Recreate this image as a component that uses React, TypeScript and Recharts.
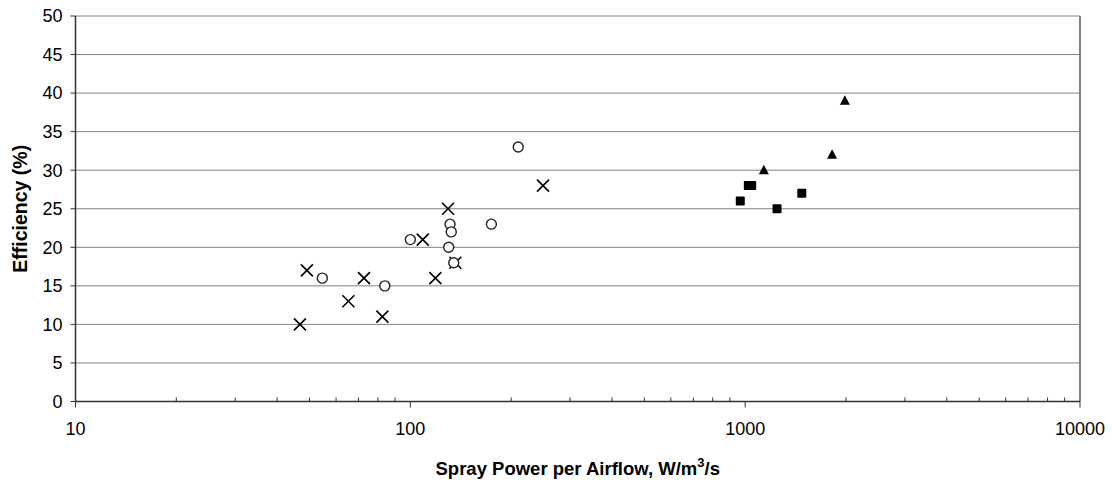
import React from "react";
import {
  CartesianGrid,
  Label,
  ReferenceLine,
  Scatter,
  ScatterChart,
  XAxis,
  YAxis,
} from "recharts";

// x: spray power per airflow (W/m3/s), y: efficiency (%)
const crossPoints = [
  { x: 46.8, y: 10 },
  { x: 49.1, y: 17 },
  { x: 65.3, y: 13 },
  { x: 72.7, y: 16 },
  { x: 82.5, y: 11 },
  { x: 108.9, y: 21 },
  { x: 118.8, y: 16 },
  { x: 129.6, y: 25 },
  { x: 136.3, y: 18 },
  { x: 249, y: 28 },
];

const circlePoints = [
  { x: 54.6, y: 16 },
  { x: 83.9, y: 15 },
  { x: 100, y: 21 },
  { x: 130.2, y: 20 },
  { x: 131.4, y: 23 },
  { x: 132.5, y: 22 },
  { x: 134.8, y: 18 },
  { x: 174.6, y: 23 },
  { x: 210, y: 33 },
];

const squarePoints = [
  { x: 967, y: 26 },
  { x: 1022, y: 28 },
  { x: 1046, y: 28 },
  { x: 1245, y: 25 },
  { x: 1476, y: 27 },
];

const trianglePoints = [
  { x: 1137, y: 30 },
  { x: 1818, y: 32 },
  { x: 1985, y: 39 },
];

const xMajorTicks = [10, 100, 1000, 10000];
const xMinorTicks = [
  20, 30, 40, 50, 60, 70, 80, 90,
  200, 300, 400, 500, 600, 700, 800, 900,
  2000, 3000, 4000, 5000, 6000, 7000, 8000, 9000,
];
const xTicks = [...xMajorTicks, ...xMinorTicks].sort((a, b) => a - b);
const yTicks = [0, 5, 10, 15, 20, 25, 30, 35, 40, 45, 50];

const FONT = "'Liberation Sans', Arial, sans-serif";
const X_TICK_SIZE = 6;
const X_TICK_MARGIN = 15;

// major ticks point down with a label, minor ticks point up into the plot
const XTick = (props: any) => {
  const { x, y, payload } = props;
  const axisY = y - X_TICK_SIZE - X_TICK_MARGIN;
  const isMajor = xMajorTicks.includes(payload.value);
  if (!isMajor) {
    return <line x1={x} x2={x} y1={axisY} y2={axisY - 4} stroke="#333" />;
  }
  return (
    <g>
      <line x1={x} x2={x} y1={axisY} y2={axisY + X_TICK_SIZE} stroke="#333" />
      <text
        x={x}
        y={y}
        dy="0.71em"
        textAnchor="middle"
        fontSize={18}
        fontFamily={FONT}
        fill="#000"
      >
        {payload.value}
      </text>
    </g>
  );
};

const XTitle = (props: any) => {
  const { viewBox } = props;
  const cx = viewBox.x + viewBox.width / 2;
  const by = viewBox.y + viewBox.height - 8;
  return (
    <text
      x={cx}
      y={by}
      textAnchor="middle"
      fontSize={18.5}
      fontWeight="bold"
      fontFamily={FONT}
      fill="#000"
    >
      Spray Power per Airflow, W/m
      <tspan dy={-8} fontSize={13}>3</tspan>
      <tspan dy={8}>/s</tspan>
    </text>
  );
};

const Cross = (props: any) => {
  const { cx, cy } = props;
  const s = 6;
  return (
    <g stroke="#000" strokeWidth={1.6}>
      <line x1={cx - s} y1={cy - s} x2={cx + s} y2={cy + s} />
      <line x1={cx - s} y1={cy + s} x2={cx + s} y2={cy - s} />
    </g>
  );
};

const Ring = (props: any) => {
  const { cx, cy } = props;
  return <circle cx={cx} cy={cy} r={5} fill="#fff" stroke="#222" strokeWidth={1.4} />;
};

const Square = (props: any) => {
  const { cx, cy } = props;
  return <rect x={cx - 4.5} y={cy - 4.5} width={9} height={9} rx={1} fill="#000" />;
};

const Triangle = (props: any) => {
  const { cx, cy } = props;
  return (
    <polygon
      points={`${cx},${cy - 5.5} ${cx + 5},${cy + 4} ${cx - 5},${cy + 4}`}
      fill="#000"
    />
  );
};

export default function App() {
  return (
    <div style={{ position: "absolute", left: 0, top: 0, background: "#fff" }}>
      <ScatterChart
        width={1113}
        height={483}
        margin={{ top: 16, right: 33, bottom: 0, left: 0 }}
      >
        <CartesianGrid vertical={false} stroke="#808080" strokeWidth={1} />
        <XAxis
          dataKey="x"
          type="number"
          scale="log"
          domain={[10, 10000]}
          allowDataOverflow
          ticks={xTicks}
          interval={0}
          tickSize={X_TICK_SIZE}
          tickMargin={X_TICK_MARGIN}
          height={81.5}
          axisLine={{ stroke: "#333", strokeWidth: 1.5 }}
          tickLine={false}
          tick={XTick}
        >
          <Label content={XTitle} />
        </XAxis>
        <YAxis
          dataKey="y"
          type="number"
          domain={[0, 50]}
          ticks={yTicks}
          width={75.5}
          tickSize={5}
          tickMargin={8}
          axisLine={{ stroke: "#333", strokeWidth: 1.5 }}
          tickLine={{ stroke: "#333" }}
          tick={{ fontSize: 18, fill: "#000", fontFamily: FONT }}
        >
          <Label
            angle={-90}
            position="insideLeft"
            offset={20}
            style={{
              fontSize: 19.5,
              fontWeight: "bold",
              fill: "#000",
              fontFamily: FONT,
              textAnchor: "middle",
            }}
          >
            Efficiency (%)
          </Label>
        </YAxis>
        <ReferenceLine x={10000} stroke="#808080" strokeWidth={2} />
        <Scatter data={crossPoints} shape={Cross} isAnimationActive={false} />
        <Scatter data={circlePoints} shape={Ring} isAnimationActive={false} />
        <Scatter data={squarePoints} shape={Square} isAnimationActive={false} />
        <Scatter data={trianglePoints} shape={Triangle} isAnimationActive={false} />
      </ScatterChart>
    </div>
  );
}
